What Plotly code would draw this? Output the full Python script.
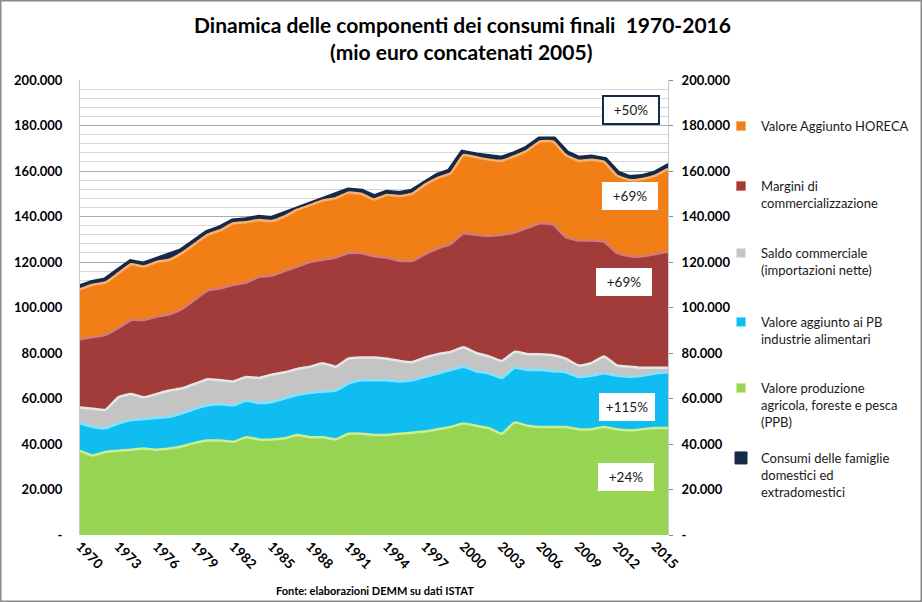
import plotly.graph_objects as go

# ---------------- data ----------------
years = list(range(1970, 2017))

ppb = [37000, 35000, 36500, 37000, 37500, 38000, 37500, 38000, 39000, 40500,
       41500, 41500, 41000, 43000, 42000, 42000, 42500, 44000, 43000, 43000,
       42000, 44500, 44500, 44000, 44000, 44500, 45000, 45500, 46500, 47500,
       49000, 48000, 47000, 44500, 49500, 48000, 47500, 47500, 47500, 46500,
       46500, 47500, 46500, 46000, 46500, 47000, 47000]

industrie = [12000, 12500, 10500, 12000, 13000, 13000, 14000, 14000, 14500, 15000,
             15500, 16000, 16000, 16000, 16000, 16500, 17500, 17500, 19500, 20000,
             21500, 22000, 23500, 24000, 24000, 23000, 23000, 24000, 24500, 25000,
             25000, 24000, 24000, 24500, 24000, 24500, 25000, 24500, 24000, 23000,
             23500, 23500, 23500, 23500, 23500, 24000, 24500]

saldo = [7000, 8000, 8000, 11500, 11500, 9500, 10500, 11500, 11000, 11000,
         11500, 10500, 10500, 10500, 11000, 12000, 11500, 11500, 11500, 12500,
         10500, 11000, 10000, 10000, 9500, 9000, 8000, 8500, 8500, 8000,
         8500, 8000, 7500, 7500, 7000, 7000, 7000, 7000, 6000, 5000,
         5500, 7500, 4500, 4500, 3500, 2500, 2000]

margini = [30000, 31500, 33000, 30500, 32500, 34000, 34000, 33500, 35000, 37000,
           39000, 40500, 42500, 41500, 44500, 43500, 44500, 45000, 46000, 45500,
           48000, 46500, 46000, 44500, 44500, 44000, 44500, 45500, 46500, 47500,
           50000, 52000, 53000, 55500, 52500, 55500, 57500, 57500, 53500, 55000,
           54000, 50500, 49500, 48500, 49000, 50000, 51000]

horeca = [22000, 23000, 23000, 24000, 24500, 23500, 24000, 24000, 24500, 24500,
          24500, 25500, 27000, 26500, 25000, 24000, 24000, 25000, 25000, 26000,
          26000, 26500, 26000, 25000, 27500, 28500, 29500, 30500, 31000, 31000,
          34500, 34000, 33500, 32500, 33500, 34000, 36000, 36500, 36000, 35000,
          35500, 35000, 34000, 33500, 34000, 34500, 36500]

consumi = [108000, 110000, 111000, 115000, 119000, 118000, 120000, 121000, 124000, 128000,
           132000, 134000, 137000, 137500, 138500, 138000, 140000, 143000, 145000, 147000,
           148000, 150500, 150000, 147500, 149500, 149000, 150000, 154000, 157000, 159000,
           167000, 166000, 165000, 164500, 166500, 169000, 173000, 173000, 167000, 164500,
           165000, 164000, 158000, 156000, 156500, 158000, 161000]

series_names = [
    "Valore produzione<br>agricola, foreste e pesca<br>(PPB)",
    "Valore aggiunto ai PB<br>industrie alimentari",
    "Saldo commerciale<br>(importazioni nette)",
    "Margini di<br>commercializzazione",
    "Valore Aggiunto HORECA",
]
consumi_name = "Consumi delle famiglie<br>domestici ed<br>extradomestici"

y_tick_vals = [0, 20000, 40000, 60000, 80000, 100000, 120000, 140000, 160000, 180000, 200000]
y_tick_text = ["-", "20.000", "40.000", "60.000", "80.000", "100.000",
               "120.000", "140.000", "160.000", "180.000", "200.000"]
x_tick_vals = list(range(1970, 2016, 3))

growth_labels = ["+50%", "+69%", "+69%", "+115%", "+24%"]

title_line1 = "Dinamica delle componenti dei consumi finali  1970-2016"
title_line2 = "(mio euro concatenati 2005)"
source_text = "Fonte: elaborazioni DEMM su dati ISTAT"

# ---------------- styling ----------------
FONT = "Lato"
fill_colors = ["#98D454", "#10BDF0", "#C4C4C4", "#A23C3A", "#F27F15"]
edge_colors = ["#CBEE8F", "#7FE2FF", "#E6E6E6", "#D47B78", "#F8B070"]
navy = "#142A48"

L, R, T, B = 80, 254, 80, 67
PW, PH = 922 - L - R, 602 - T - B


def px(xp):
    return (xp - L) / PW


def py(yp):
    return (602 - B - yp) / PH


fig = go.Figure()

# total consumption outline (drawn behind the stack)
fig.add_trace(go.Scatter(
    x=[years[0]] + years + [years[-1], years[0]],
    y=[0] + consumi + [0, 0],
    fill="toself", fillcolor=navy, mode="lines",
    line=dict(color=navy, width=10), showlegend=False, hoverinfo="skip",
))

stack_values = [ppb, industrie, saldo, margini, horeca]
for vals, name, fc, ec in zip(stack_values, series_names, fill_colors, edge_colors):
    fig.add_trace(go.Scatter(
        x=years, y=vals, name=name, stackgroup="one", mode="lines",
        line=dict(color=ec, width=2.5, shape="spline", smoothing=0.4),
        fillcolor=fc, showlegend=False,
    ))

# legend entries (small squares, each in its own legend box, as in the reference)
legend_names = ["legend", "legend2", "legend3", "legend4", "legend5", "legend6"]
legend_item_y = [126, 186, 253, 322, 388, 458]
legend_order = [4, 3, 2, 1, 0]
for i, idx in enumerate(legend_order):
    fig.add_trace(go.Scatter(
        x=[None], y=[None], mode="markers", name=series_names[idx],
        marker=dict(symbol="square", size=9, color=fill_colors[idx],
                    line=dict(color=edge_colors[idx], width=1)),
        legend=legend_names[i], showlegend=True,
    ))
fig.add_trace(go.Scatter(
    x=[None], y=[None], mode="markers", name=consumi_name,
    marker=dict(symbol="square", size=12, color=navy, line=dict(color=navy, width=1)),
    legend=legend_names[5], showlegend=True,
))

# invisible trace to activate the right axis
fig.add_trace(go.Scatter(x=[years[0]], y=[0], yaxis="y2", mode="markers",
                         marker=dict(opacity=0), showlegend=False, hoverinfo="skip"))

# growth annotations
ann_pos = [(631, 110), (630, 196), (624, 282), (627, 407), (626, 477)]
annotations = []
for k, (lab, (ax, ay)) in enumerate(zip(growth_labels, ann_pos)):
    annotations.append(dict(
        x=px(ax), y=py(ay), xref="paper", yref="paper", text=lab, showarrow=False,
        xanchor="center", yanchor="middle",
        font=dict(family=FONT, size=13.5, color="#1a1a1a"),
        bgcolor="white", bordercolor=navy if k == 0 else "white",
        borderwidth=2 if k == 0 else 0, borderpad=5 if k == 0 else 6,
        width=44,
    ))

annotations += [
    dict(x=px(462), y=py(24), xref="paper", yref="paper",
         text=title_line1, showarrow=False, xanchor="center", yanchor="middle",
         font=dict(family=FONT, size=21, color="black", weight="bold")),
    dict(x=px(461), y=py(51), xref="paper", yref="paper",
         text=title_line2, showarrow=False, xanchor="center", yanchor="middle",
         font=dict(family=FONT, size=21, color="black", weight="bold")),
    dict(x=px(375), y=py(590), xref="paper", yref="paper",
         text=source_text, showarrow=False, xanchor="center", yanchor="middle",
         font=dict(family=FONT, size=11, color="black", weight="bold")),
]

legend_common = dict(xanchor="left", yanchor="top", valign="top",
                     itemsizing="trace", itemwidth=30,
                     font=dict(family=FONT, size=13, color="#1a1a1a"),
                     bgcolor="rgba(0,0,0,0)")
legend_layout = {}
for name, yc in zip(legend_names, legend_item_y):
    legend_layout[name] = dict(x=px(721), y=py(yc - 15), **legend_common)

fig.update_layout(
    width=922, height=602,
    margin=dict(l=L, r=R, t=T, b=B, autoexpand=False),
    paper_bgcolor="white", plot_bgcolor="white",
    font=dict(family=FONT, size=13, color="black"),
    showlegend=True,
    xaxis=dict(range=[1970, 2016], tickmode="array", tickvals=x_tick_vals,
               tickangle=45, tickfont=dict(family=FONT, size=13.5, weight="bold"),
               showgrid=False, zeroline=False, showline=False, ticks=""),
    yaxis=dict(range=[0, 200000], tickmode="array", tickvals=y_tick_vals,
               ticktext=y_tick_text, tickfont=dict(family=FONT, size=13, weight="bold"),
               showgrid=True, gridcolor="#ABABAB", gridwidth=1,
               minor=dict(tickmode="linear", tick0=0, dtick=4000, showgrid=True,
                          gridcolor="#D8D8D8", gridwidth=1),
               zeroline=False, showline=True, linecolor="#C8C8C8", mirror=True,
               ticks="", ticklabelstandoff=14),
    yaxis2=dict(range=[0, 200000], overlaying="y", side="right", tickmode="array",
                tickvals=y_tick_vals, ticktext=y_tick_text,
                tickfont=dict(family=FONT, size=13, weight="bold"),
                showgrid=False, zeroline=False, ticks="outside", ticklen=4,
                tickcolor="#8C8C8C", ticklabelstandoff=6),
    annotations=annotations,
    shapes=[dict(type="rect", xref="paper", yref="paper",
                 x0=px(0.75), x1=px(921.25),
                 y0=py(601.25), y1=py(0.75),
                 line=dict(color="#8A8A8A", width=1.5), fillcolor="rgba(0,0,0,0)",
                 layer="above")],
    **legend_layout,
)

fig.write_html("out.html", config={"displayModeBar": False},
               post_script="document.body.style.margin='0';document.body.style.overflow='hidden';")
